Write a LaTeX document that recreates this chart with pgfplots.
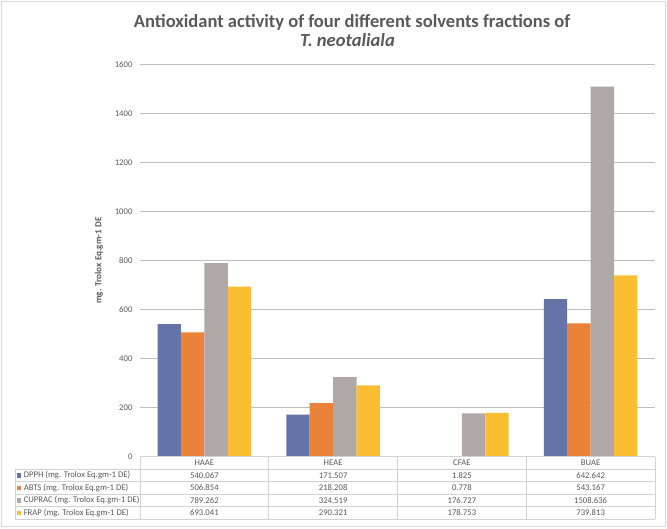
\documentclass[border=0pt]{standalone}
\usepackage{pgfplots}
\pgfplotsset{compat=1.18}
\usepackage{fontspec}
\setmainfont{Carlito}
\definecolor{cDPPH}{RGB}{100,115,168}
\definecolor{cABTS}{RGB}{234,130,58}
\definecolor{cCUP}{RGB}{176,168,166}
\definecolor{cFRAP}{RGB}{249,190,50}
\definecolor{txt}{RGB}{89,89,89}
\definecolor{grid}{RGB}{217,217,217}
\definecolor{tbl}{RGB}{210,210,210}
\begin{document}
\begin{tikzpicture}
\path (0,0) rectangle (500.25pt,396pt);
\begin{axis}[
  at={(105pt,53.475pt)}, anchor=south west,
  scale only axis, width=386.25pt, height=294.3pt,
  xmin=-0.5, xmax=3.5, ymin=0, ymax=1600,
  ybar=0pt, bar width=17.55pt,
  axis line style={draw=none},
  major tick length=0pt,
  xtick=\empty,
  ytick={0,200,...,1600},
  ymajorgrids, grid style={grid, line width=0.6pt},
  /pgf/number format/assume math mode=true,
  /pgf/number format/1000 sep={},
  yticklabel style={font=\fontsize{6.5}{7}\selectfont, text=txt, inner sep=0pt, xshift=-5.5pt},
  ylabel={mg. Trolox Eq.gm-1 DE},
  ylabel style={font=\fontsize{6.9}{8}\selectfont\bfseries, text=txt, at={(axis description cs:-0.0796,0.5)}, anchor=center},
  clip=false,
]
\addplot[fill=cDPPH, draw=none] coordinates {(0,540.067) (1,171.507) (2,1.825) (3,642.642)};
\addplot[fill=cABTS, draw=none] coordinates {(0,506.854) (1,218.208) (2,0.778) (3,543.167)};
\addplot[fill=cCUP, draw=none] coordinates {(0,789.262) (1,324.519) (2,176.727) (3,1508.636)};
\addplot[fill=cFRAP, draw=none] coordinates {(0,693.041) (1,290.321) (2,178.753) (3,739.813)};
\end{axis}
\begin{scope}[shift={(0,396pt)}, x=0.75pt, y=-0.75pt]
  % outer frame
  \draw[grid, line width=0.6pt] (1.5,1.5) rectangle (665.5,526);
  % title
  \node[anchor=base, text=txt, font=\fontsize{13.9}{15}\selectfont\bfseries, inner sep=0pt] at (352,27.3)
    {Antioxidant activity of four different solvents fractions of};
  \node[anchor=base, text=txt, font=\fontsize{13.9}{15}\selectfont\bfseries\itshape, inner sep=0pt] at (347.5,46.7)
    {T. neotaliala};
  % table lines
  \begin{scope}[draw=tbl, line width=0.5pt]
    \draw (140,456.7) -- (655,456.7);
    \foreach \yy in {469.3,481.8,494.3,506.8,519.3} \draw (15,\yy) -- (655,\yy);
    \draw (15,469.3) -- (15,519.3);
    \foreach \xx in {140,268.75,397.5,526.25,655} \draw (\xx,456.7) -- (\xx,519.3);
  \end{scope}
  \begin{scope}[font=\fontsize{6.5}{7}\selectfont, text=txt]
    \foreach \lab [count=\i from 0] in {HAAE,HEAE,CFAE,BUAE}
      \node at (204.375+128.75*\i,463) {\lab};
    \foreach \yy/\col/\lab in {475.55/cDPPH/DPPH (mg. Trolox Eq.gm-1 DE),488.05/cABTS/ABTS (mg. Trolox Eq.gm-1 DE),500.55/cCUP/CUPRAC (mg. Trolox Eq.gm-1 DE),513.05/cFRAP/FRAP (mg. Trolox Eq.gm-1 DE)}{
      \fill[\col] (17,\yy-2.2) rectangle (21.4,\yy+2.2);
      \node[anchor=west, inner sep=0pt] at (23.5,\yy) {\lab};
    }
    \foreach \yy/\a/\b/\c/\d in {475.55/540.067/171.507/1.825/642.642,488.05/506.854/218.208/0.778/543.167,500.55/789.262/324.519/176.727/1508.636,513.05/693.041/290.321/178.753/739.813}{
      \node at (204.375,\yy) {\a};
      \node at (333.125,\yy) {\b};
      \node at (461.875,\yy) {\c};
      \node at (590.625,\yy) {\d};
    }
  \end{scope}
\end{scope}
\end{tikzpicture}
\end{document}
